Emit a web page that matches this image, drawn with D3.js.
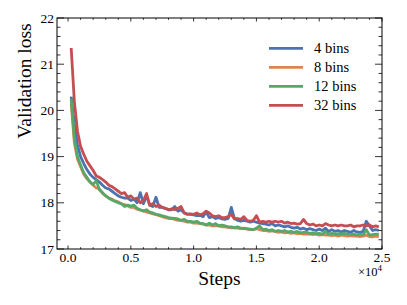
<!DOCTYPE html>
<html>
<head>
<meta charset="utf-8">
<title>Validation loss</title>
<script src="https://cdn.jsdelivr.net/npm/d3@7/dist/d3.min.js"></script>
<style>
  body { margin: 0; background: #fff; }
  svg text { font-family: "Liberation Serif", "Times New Roman", "DejaVu Serif", serif; fill: #000; }
  .frame { fill: none; stroke: #000; stroke-width: 1; }
  .line { fill: none; stroke-width: 2.8; stroke-linejoin: round; }
</style>
</head>
<body>
<div id="chart"></div>
<script>

var steps = [250, 500, 750, 1000, 1250, 1500, 1750, 2000, 2250, 2500, 2750, 3000, 3250, 3500, 3750, 4000,
  4250, 4500, 4750, 5000, 5250, 5500, 5750, 6000, 6250, 6500, 6750, 7000, 7250, 7500, 7750, 8000,
  8250, 8500, 8750, 9000, 9250, 9500, 9750, 10000, 10250, 10500, 10750, 11000, 11250, 11500, 11750, 12000,
  12250, 12500, 12750, 13000, 13250, 13500, 13750, 14000, 14250, 14500, 14750, 15000, 15250, 15500, 15750, 16000,
  16250, 16500, 16750, 17000, 17250, 17500, 17750, 18000, 18250, 18500, 18750, 19000, 19250, 19500, 19750, 20000,
  20250, 20500, 20750, 21000, 21250, 21500, 21750, 22000, 22250, 22500, 22750, 23000, 23250, 23500, 23750, 24000,
  24250, 24500, 24750];

var bins4 = [20.3, 19.7, 19.25, 19.0, 18.85, 18.72, 18.62, 18.55, 18.5, 18.45, 18.38, 18.32, 18.3, 18.25, 18.2, 18.15,
  18.12, 18.1, 18.1, 18.05, 18.08, 18.0, 18.22, 17.98, 18.15, 17.95, 17.92, 18.12, 17.9, 17.9, 17.88, 17.85,
  17.85, 17.92, 17.82, 17.85, 17.78, 17.76, 17.75, 17.74, 17.72, 17.73, 17.7, 17.8, 17.68, 17.7, 17.66, 17.68,
  17.65, 17.64, 17.66, 17.9, 17.66, 17.62, 17.6, 17.62, 17.6, 17.58, 17.6, 17.58, 17.56, 17.55, 17.54, 17.52,
  17.55, 17.5, 17.52, 17.5, 17.48, 17.5, 17.47, 17.45, 17.47, 17.43, 17.45, 17.42, 17.44, 17.42, 17.4, 17.43,
  17.4, 17.45, 17.38, 17.42, 17.38, 17.4, 17.37, 17.4, 17.38, 17.36, 17.4, 17.37, 17.36, 17.38, 17.6, 17.5,
  17.4, 17.42, 17.4];

var bins8 = [20.15, 19.3, 18.95, 18.78, 18.62, 18.52, 18.45, 18.38, 18.32, 18.3, 18.2, 18.15, 18.1, 18.08, 18.04, 18.02,
  17.98, 17.96, 17.93, 17.9, 17.9, 17.86, 17.84, 17.83, 17.8, 17.78, 17.76, 17.75, 17.72, 17.7, 17.68, 17.66,
  17.66, 17.64, 17.62, 17.62, 17.6, 17.58, 17.58, 17.56, 17.56, 17.55, 17.54, 17.52, 17.52, 17.5, 17.5, 17.5,
  17.48, 17.48, 17.47, 17.46, 17.46, 17.45, 17.44, 17.45, 17.43, 17.42, 17.42, 17.44, 17.42, 17.4, 17.4, 17.38,
  17.39, 17.38, 17.36, 17.37, 17.35, 17.36, 17.34, 17.35, 17.33, 17.34, 17.32, 17.33, 17.32, 17.31, 17.32, 17.3,
  17.31, 17.3, 17.3, 17.29, 17.3, 17.28, 17.3, 17.29, 17.28, 17.29, 17.28, 17.28, 17.27, 17.28, 17.3, 17.27,
  17.26, 17.28, 17.27];

var bins12 = [20.25, 19.4, 19.0, 18.82, 18.65, 18.55, 18.45, 18.4, 18.48, 18.28, 18.22, 18.15, 18.1, 18.06, 18.03, 18.0,
  17.98, 17.92, 17.95, 17.93, 17.95, 17.88, 17.85, 17.82, 17.85, 17.8, 17.78, 17.75, 17.74, 17.72, 17.7, 17.68,
  17.67, 17.66, 17.65, 17.62, 17.64, 17.6, 17.6, 17.58, 17.6, 17.56, 17.55, 17.52, 17.56, 17.52, 17.55, 17.5,
  17.52, 17.5, 17.48, 17.48, 17.46, 17.48, 17.45, 17.44, 17.44, 17.43, 17.42, 17.45, 17.5, 17.42, 17.43, 17.4,
  17.42, 17.38, 17.4, 17.38, 17.4, 17.37, 17.38, 17.36, 17.38, 17.35, 17.36, 17.36, 17.34, 17.35, 17.33, 17.34,
  17.32, 17.38, 17.32, 17.34, 17.32, 17.33, 17.32, 17.34, 17.32, 17.31, 17.32, 17.3, 17.32, 17.3, 17.42, 17.3,
  17.31, 17.32, 17.32];

var bins32 = [21.35, 20.2, 19.55, 19.22, 19.05, 18.9, 18.8, 18.7, 18.58, 18.55, 18.5, 18.45, 18.38, 18.35, 18.3, 18.25,
  18.2, 18.22, 18.12, 18.15, 18.08, 18.1, 18.0, 18.05, 18.2, 17.95, 17.98, 17.92, 17.95, 17.9, 17.88, 17.85,
  17.87, 17.85, 17.88, 17.92, 17.78, 17.75, 17.76, 17.75, 17.78, 17.74, 17.76, 17.82, 17.78, 17.72, 17.7, 17.72,
  17.68, 17.68, 17.7, 17.75, 17.65, 17.66, 17.64, 17.7, 17.62, 17.6, 17.62, 17.72, 17.58, 17.6, 17.58, 17.6,
  17.58, 17.6, 17.58, 17.6, 17.56, 17.58, 17.55, 17.56, 17.54, 17.55, 17.64, 17.55, 17.52, 17.54, 17.5, 17.52,
  17.5, 17.55, 17.52, 17.5, 17.52, 17.5, 17.52, 17.5, 17.5, 17.52, 17.48, 17.5, 17.5, 17.52, 17.5, 17.52,
  17.48, 17.5, 17.48];

var seriesNames = ["4 bins", "8 bins", "12 bins", "32 bins"];
var seriesColors = ["#4c72b0", "#dd8452", "#55a868", "#c44e52"];
var seriesValues = [bins4, bins8, bins12, bins32];

var xMajor = [0, 5000, 10000, 15000, 20000, 25000];
var xMajorLabels = ["0.0", "0.5", "1.0", "1.5", "2.0", "2.5"];
var yMajor = [17, 18, 19, 20, 21, 22];

var width = 407, height = 305;
var margin = { left: 57, right: 25, top: 18, bottom: 56 };
var iw = width - margin.left - margin.right,
    ih = height - margin.top - margin.bottom;

var svg = d3.select("#chart").append("svg")
    .attr("width", width)
    .attr("height", height);

var g = svg.append("g")
    .attr("transform", "translate(" + margin.left + "," + margin.top + ")");

var x = d3.scaleLinear().domain([-880, 25000]).range([0, iw]);
var y = d3.scaleLinear().domain([17, 22]).range([ih, 0]);

var xMinor = d3.range(0, 25001, 1000).filter(function(d) { return d % 5000 !== 0; });
var yMinor = d3.range(17, 22.001, 0.2).filter(function(d) { return Math.abs(d - Math.round(d)) > 0.01; });

// lines
var line = d3.line()
    .x(function(d) { return x(d[0]); })
    .y(function(d) { return y(d[1]); });

seriesValues.forEach(function(vals, i) {
    g.append("path")
        .datum(steps.map(function(s, j) { return [s, vals[j]]; }))
        .attr("class", "line")
        .attr("stroke", seriesColors[i])
        .attr("d", line);
});

// ticks, inward on all four sides
function xTicks(sel, vals, len) {
    vals.forEach(function(v) {
        sel.append("line").attr("x1", x(v)).attr("x2", x(v)).attr("y1", ih).attr("y2", ih - len).attr("stroke", "#000");
        sel.append("line").attr("x1", x(v)).attr("x2", x(v)).attr("y1", 0).attr("y2", len).attr("stroke", "#000");
    });
}
function yTicks(sel, vals, len) {
    vals.forEach(function(v) {
        sel.append("line").attr("y1", y(v)).attr("y2", y(v)).attr("x1", 0).attr("x2", len).attr("stroke", "#000");
        sel.append("line").attr("y1", y(v)).attr("y2", y(v)).attr("x1", iw).attr("x2", iw - len).attr("stroke", "#000");
    });
}
var ticks = g.append("g").attr("stroke-width", 0.8);
xTicks(ticks, xMajor, 3.5);
xTicks(ticks, xMinor, 1.8);
yTicks(ticks, yMajor, 7);
yTicks(ticks, yMinor, 3.5);

g.append("rect").attr("class", "frame")
    .attr("x", 0).attr("y", 0).attr("width", iw).attr("height", ih);

// tick labels
g.selectAll(".xlab").data(xMajor).enter().append("text")
    .attr("x", function(d) { return x(d); })
    .attr("y", ih + 12.5)
    .attr("text-anchor", "middle")
    .attr("font-size", 13.5)
    .text(function(d, i) { return xMajorLabels[i]; });

g.selectAll(".ylab").data(yMajor).enter().append("text")
    .attr("x", -3)
    .attr("y", function(d) { return y(d) + 4.5; })
    .attr("text-anchor", "end")
    .attr("font-size", 13.5)
    .text(function(d) { return d; });

// offset text
var off = g.append("text")
    .attr("x", iw)
    .attr("y", ih + 27)
    .attr("text-anchor", "end")
    .attr("font-size", 12.5);
off.append("tspan").text("\u00d710");
off.append("tspan").attr("dy", -5).attr("font-size", 9).text("4");

// axis labels
svg.append("text")
    .attr("x", margin.left + iw / 2)
    .attr("y", 285)
    .attr("text-anchor", "middle")
    .attr("font-size", 19.5)
    .text("Steps");

svg.append("text")
    .attr("transform", "translate(31,81) rotate(-90)")
    .attr("text-anchor", "middle")
    .attr("font-size", 19.5)
    .text("Validation loss");

// legend
var legend = svg.append("g");
seriesNames.forEach(function(name, i) {
    var ly = 48.3 + i * 19;
    legend.append("line")
        .attr("x1", 269).attr("x2", 303)
        .attr("y1", ly).attr("y2", ly)
        .attr("stroke", seriesColors[i])
        .attr("stroke-width", 2.8);
    legend.append("text")
        .attr("x", 314)
        .attr("y", ly + 4.5)
        .attr("font-size", 14.5)
        .text(name);
});

</script>
</body>
</html>
